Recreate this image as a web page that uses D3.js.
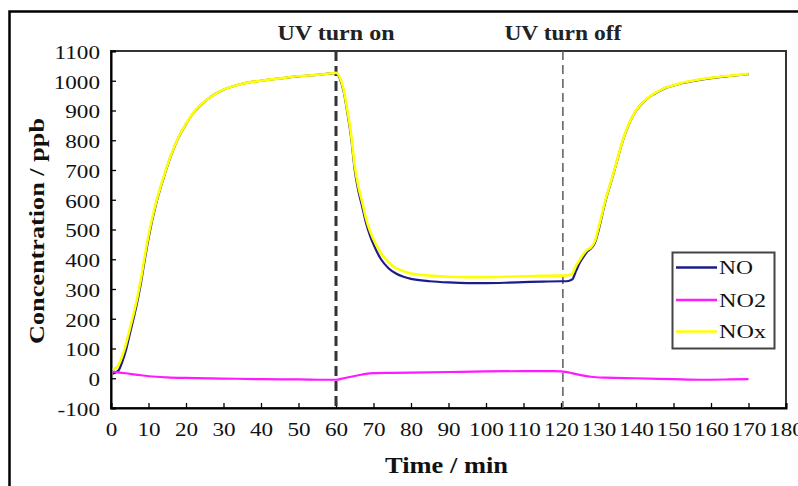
<!DOCTYPE html>
<html><head><meta charset="utf-8">
<script src="https://cdn.jsdelivr.net/npm/d3@7"></script>
<style>body{margin:0;background:#fff}svg{display:block}</style>
</head><body>
<svg id="c" width="798" height="486"></svg>
<script>
const timeNOx = [0.5,1,2,3,4,5,6,7,8,9,10,12,14,16,18,20,22,24,26,28,30,35,40,45,50,55,59,60,61,62,63,64,65,66,67,68,69,70,72,74,76,78,80,85,90,95,100,105,110,115,120,121,122,123,124,125,126,127,128,129,130,131,132,133,134,135,136,137,138,139,140,142,144,146,148,150,152,155,160,165,170];
const valuesNOx = [28,32,45,75,115,165,215,270,335,410,480,590,675,750,810,855,893,920,940,957,970,990,1000,1008,1015,1020,1025,1027,1012,972,902,822,712,642,592,537,497,467,420,390,370,360,352,345,341,340,340,341,343,344,345,345,346,352,378,398,418,432,440,460,505,556,606,648,690,735,780,820,852,878,900,930,950,965,977,985,992,1000,1010,1017,1023];
const timeNO = timeNOx;
const valuesNO = [15,18,26,55,95,148,200,256,322,398,470,585,672,748,809,854,892,919,940,957,970,990,1000,1008,1015,1020,1025,1026,1008,966,895,812,700,628,576,522,482,450,400,370,352,341,334,326,322,320,320,321,323,325,326,326,327,332,360,388,408,426,436,454,496,550,602,645,688,733,778,818,850,877,899,929,949,964,976,984,991,999,1009,1016,1022];
const timeNO2 = [0.5,2,5,8,12,15,20,30,40,50,58,60,62,64,66,68,70,75,80,90,100,110,118,120,122,124,126,128,132,140,150,157,165,170];
const valuesNO2 = [22,20,15,10,5,3,1,-1,-3,-4,-5,-5,0,5,10,15,17,18,19,21,23,24,24,23,20,14,9,5,2,0,-3,-5,-4,-3];
const xTicks = [0,10,20,30,40,50,60,70,80,90,100,110,120,130,140,150,160,170,180];
const yTicks = [-100,0,100,200,300,400,500,600,700,800,900,1000,1100];
const yTickLabels = ["-100","0","100","200","300","400","500","600","700","800","900","1000","1100"];
const seriesNames = ["NO","NO2","NOx"];
const seriesColors = ["#1c1c8a","#ff1aff","#ffff00"];
const markers = [{t:60,label:"UV turn on"},{t:120.5,label:"UV turn off"}];

const svg = d3.select("#c");
const serif = "'Liberation Serif','Times New Roman',serif";
const x = d3.scaleLinear().domain([0,180]).range([111,786]);
const y = d3.scaleLinear().domain([-100,1100]).range([408,51]);

// outer frame
svg.append("rect").attr("x",9.5).attr("y",11.5).attr("width",900).attr("height",600)
  .attr("fill","none").attr("stroke","#000").attr("stroke-width",2.5);

// plot frame
svg.append("rect").attr("x",x(0)).attr("y",y(1100)).attr("width",x(180)-x(0)).attr("height",y(-100)-y(1100))
  .attr("fill","none").attr("stroke","#333").attr("stroke-width",2);

const sx = 1.22;
const xa = svg.append("g").attr("transform",`translate(0,${y(-100)})`)
  .call(d3.axisBottom(x).tickValues(xTicks).tickSize(-5).tickFormat(d=>String(d)));
const ya = svg.append("g").attr("transform",`translate(${x(0)},0)`)
  .call(d3.axisLeft(y).tickValues(yTicks).tickSize(-5).tickFormat((d,i)=>yTickLabels[i]));
[xa,ya].forEach(g=>{
  g.select(".domain").attr("stroke","#000").attr("stroke-width",2);
  g.selectAll(".tick line").attr("stroke","#000").attr("stroke-width",1.3);
  g.selectAll(".tick text").attr("font-family",serif).attr("font-size",19).attr("fill","#111");
});
xa.selectAll(".tick text").attr("y",0).attr("dy",0)
  .attr("transform",`translate(0,28) scale(${sx},1)`);
ya.selectAll(".tick text").attr("x",0).attr("dy","0.34em")
  .attr("transform",`translate(-11,1) scale(${sx},1)`);

// markers
markers.forEach((m,i)=>{
  svg.append("line").attr("x1",x(m.t)).attr("x2",x(m.t)).attr("y1",y(1100)).attr("y2",y(-100))
    .attr("stroke", i===0?"#333":"#666").attr("stroke-width", i===0?3:1.6)
    .attr("stroke-dasharray", i===0?"10,5":"9,5");
  svg.append("text").attr("x",x(m.t)).attr("y",40).attr("text-anchor","middle")
    .attr("font-family",serif).attr("font-weight","bold").attr("font-size",21)
    .attr("textLength",117).attr("lengthAdjust","spacingAndGlyphs").attr("fill","#222").text(m.label);
});

// lines
const mk = (ts,vs)=>ts.map((t,i)=>[t,vs[i]]);
const data = [mk(timeNO,valuesNO), mk(timeNO2,valuesNO2), mk(timeNOx,valuesNOx)];
const line = d3.line().x(d=>x(d[0])).y(d=>y(d[1])).curve(d3.curveMonotoneX);
data.forEach((d,i)=>{
  svg.append("path").datum(d).attr("d",line).attr("fill","none")
    .attr("stroke",seriesColors[i]).attr("stroke-width", i===2?2.6:2.2);
});

// legend
const lg = svg.append("g");
lg.append("rect").attr("x",672.5).attr("y",252.5).attr("width",102).attr("height",96)
  .attr("fill","#fff").attr("stroke","#444").attr("stroke-width",2);
const legY = [267.5,300,331.5];
const legW = [34,47,47];
seriesNames.forEach((n,i)=>{
  lg.append("line").attr("x1",676).attr("x2",717).attr("y1",legY[i]).attr("y2",legY[i])
    .attr("stroke",seriesColors[i]).attr("stroke-width",2.5);
  lg.append("text").attr("x",719).attr("y",legY[i]+6.5).attr("font-family",serif).attr("font-size",19)
    .attr("textLength",legW[i]).attr("lengthAdjust","spacingAndGlyphs").attr("fill","#111").text(n);
});

// axis titles
svg.append("text").attr("x",446.5).attr("y",473).attr("text-anchor","middle")
  .attr("font-family",serif).attr("font-weight","bold").attr("font-size",23)
  .attr("textLength",123).attr("lengthAdjust","spacingAndGlyphs").attr("fill","#111").text("Time / min");
svg.append("text").attr("transform","translate(44,231) rotate(-90)").attr("text-anchor","middle")
  .attr("font-family",serif).attr("font-weight","bold").attr("font-size",22)
  .attr("textLength",226).attr("lengthAdjust","spacingAndGlyphs").attr("fill","#111").text("Concentration / ppb");
</script>
</body></html>
